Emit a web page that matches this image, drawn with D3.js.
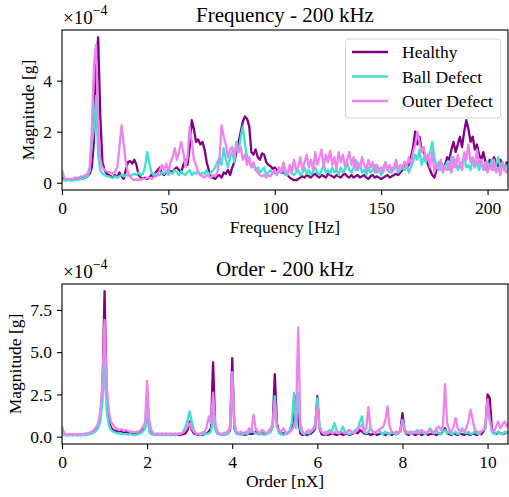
<!DOCTYPE html>
<html>
<head>
<meta charset="utf-8">
<script src="https://cdn.jsdelivr.net/npm/d3@7"></script>
<style>
  body { margin: 0; background: #fff; }
  svg { display: block; font-family: "Liberation Serif", "Times New Roman", serif; }
</style>
</head>
<body>
<svg id="chart" width="509" height="497"></svg>
<script>
// values are in units of 1e-4 g
const seriesNames = ["Healthy", "Ball Defect", "Outer Defect"];
const seriesColors = ["#800080", "#40E0D0", "#EE82EE"];

// frequency spectrum, 1 Hz step from 0 Hz
const freqStep = 1;
const freqHealthy = [
  0.2,0.12,0.1,0.12,0.1,0.1,0.12,0.15,0.15,0.15,
  0.18,0.2,0.25,0.35,0.6,1.6,4.6,5.7,2.6,0.8,
  0.5,0.35,0.3,0.25,0.2,0.3,0.2,0.4,0.25,0.15,
  0.5,0.8,0.85,0.75,0.9,0.7,0.3,0.2,0.15,0.2,
  0.15,0.2,0.3,0.25,0.4,0.5,0.6,0.35,0.3,0.4,
  0.5,0.45,0.4,0.55,0.6,0.5,0.4,0.7,0.9,0.7,
  1.4,2.45,2.1,1.6,1.7,1.5,1.6,1.3,0.8,0.5,
  0.2,0.2,0.15,0.25,0.3,0.2,0.4,0.35,0.5,0.3,
  0.6,0.8,1.2,1.6,2.0,2.4,2.6,2.5,2.2,1.2,
  1.1,1.3,1.0,0.9,1.15,1.1,0.8,0.7,0.65,0.55,
  0.6,0.5,0.45,0.4,0.4,0.35,0.3,0.2,0.15,0.1,
  0.1,0.15,0.2,0.25,0.2,0.3,0.25,0.2,0.3,0.35,
  0.25,0.2,0.3,0.25,0.2,0.35,0.3,0.25,0.2,0.3,
  0.25,0.2,0.3,0.35,0.25,0.2,0.3,0.2,0.25,0.3,
  0.2,0.25,0.3,0.2,0.15,0.25,0.3,0.2,0.25,0.2,
  0.15,0.2,0.25,0.3,0.2,0.25,0.3,0.35,0.3,0.4,
  0.5,0.8,0.6,0.7,1.0,1.4,2.0,1.5,1.8,1.3,
  1.2,1.0,0.7,0.5,0.3,0.2,0.5,0.6,0.8,0.6,
  0.7,1.0,0.9,1.3,1.6,1.2,1.5,1.8,1.4,2.0,
  2.45,2.1,1.6,1.8,1.3,1.5,1.1,0.9,1.2,0.8,
  0.6,0.9,0.7,1.0,0.8,0.6,0.9,0.7,0.5,0.8,
  0.6
];
const freqBall = [
  0.1,0.1,0.08,0.1,0.1,0.1,0.1,0.12,0.12,0.15,
  0.15,0.2,0.25,0.45,1.5,2.1,3.4,1.1,0.5,0.35,
  0.3,0.25,0.25,0.2,0.2,0.25,0.2,0.25,0.3,0.25,
  0.3,0.3,0.25,0.3,0.35,0.3,0.4,0.3,0.35,0.6,
  1.2,0.8,0.4,0.3,0.35,0.3,0.3,0.4,0.35,0.45,
  0.3,0.4,0.35,0.5,0.4,0.3,0.45,0.35,0.3,0.4,
  0.5,0.3,0.4,0.35,0.45,0.3,0.4,0.35,0.5,0.3,
  0.4,0.5,0.6,0.8,1.0,0.7,1.35,0.9,0.6,1.0,
  1.2,0.8,1.6,1.2,1.8,2.2,1.5,1.0,0.8,0.6,
  0.7,0.5,0.6,0.4,0.5,0.6,0.3,0.4,0.5,0.35,
  0.4,0.3,0.5,0.4,0.6,0.3,0.4,0.5,0.35,0.3,
  0.4,0.5,0.3,0.4,0.6,0.35,0.5,0.3,0.45,0.6,
  0.4,0.3,0.5,0.7,0.4,0.5,0.35,0.6,0.4,0.5,
  0.3,0.6,0.4,0.5,0.8,0.5,0.4,0.6,0.9,0.5,
  0.7,0.4,0.5,0.3,0.6,0.4,0.5,0.7,0.4,0.5,
  0.3,0.6,0.8,0.5,0.4,0.6,0.5,0.7,0.4,0.5,
  0.6,0.5,0.7,0.4,0.6,0.8,1.1,0.9,1.3,0.7,
  1.0,0.8,1.0,1.2,1.6,1.0,0.6,0.8,0.5,0.7,
  0.6,0.8,0.5,1.0,0.6,0.9,0.5,0.7,0.8,1.0,
  0.6,0.7,0.5,0.9,0.6,0.8,0.5,0.7,0.6,0.5,
  0.8,0.6,0.9,0.5,0.7,1.0,0.6,0.8,0.5,0.7,
  0.6
];
const freqOuter = [
  0.5,0.2,0.15,0.15,0.15,0.15,0.2,0.2,0.2,0.25,
  0.25,0.3,0.35,0.6,2.0,4.6,5.4,2.2,0.9,0.6,
  0.5,0.45,0.4,0.4,0.35,0.45,0.6,1.4,2.25,1.5,
  0.8,0.4,0.25,0.15,0.1,0.15,0.1,0.12,0.15,0.15,
  0.2,0.2,0.15,0.2,0.25,0.3,0.5,0.7,0.5,0.75,
  0.4,0.8,1.0,1.35,0.9,1.2,1.6,1.2,0.6,1.0,
  2.2,1.6,0.9,0.7,0.4,0.3,0.25,0.2,0.3,0.25,
  0.2,0.3,0.25,0.4,0.9,2.25,1.8,1.5,1.0,1.3,
  1.4,1.0,1.5,1.2,1.4,0.9,1.1,0.7,1.0,0.6,
  0.8,0.5,0.4,0.3,0.25,0.3,0.2,0.3,0.25,0.4,
  0.5,0.3,0.6,0.4,0.8,0.5,0.3,0.7,0.4,0.9,
  0.5,0.6,1.0,0.5,0.8,1.1,0.6,0.9,0.5,1.2,
  0.7,1.0,1.3,0.6,1.1,0.8,1.25,0.7,1.0,0.5,
  1.2,0.8,1.1,0.6,0.9,1.2,0.7,1.0,0.5,0.8,
  0.6,1.0,0.7,0.5,0.9,0.6,0.8,0.4,0.7,0.5,
  0.6,0.4,0.8,0.5,0.7,0.4,0.6,0.9,0.5,0.7,
  0.6,0.8,0.6,1.0,0.7,1.2,1.5,2.0,1.6,1.2,
  1.4,0.9,1.1,0.6,1.2,0.4,0.7,0.5,0.9,0.4,
  0.6,0.5,0.8,0.4,1.0,0.6,1.1,0.7,0.5,1.2,
  0.9,1.5,0.8,1.0,0.6,1.3,0.7,0.9,0.5,0.8,
  0.4,0.7,0.5,0.9,0.4,0.6,0.3,0.8,0.5,0.4,
  0.6
];

// order spectrum, 0.05 nX step from 0
const orderStep = 0.05;
const orderHealthy = [
  0.5,0.15,0.12,0.1,0.12,0.1,0.12,0.1,0.12,0.1,
  0.12,0.15,0.15,0.2,0.25,0.3,0.45,0.7,1.2,2.6,
  8.6,2.4,0.9,0.55,0.4,0.35,0.3,0.3,0.35,0.25,
  0.3,0.25,0.2,0.15,0.2,0.15,0.2,0.3,0.4,0.5,
  2.15,0.4,0.2,0.15,0.1,0.15,0.1,0.12,0.15,0.1,
  0.12,0.1,0.15,0.1,0.12,0.1,0.12,0.15,0.2,0.4,
  0.9,0.4,0.2,0.15,0.1,0.12,0.1,0.15,0.2,0.3,
  0.5,4.4,0.6,0.2,0.15,0.1,0.12,0.15,0.2,0.4,
  4.65,0.5,0.2,0.15,0.2,0.15,0.1,0.15,0.2,0.15,
  0.2,0.3,0.2,0.15,0.2,0.15,0.2,0.25,0.3,0.6,
  3.7,0.8,0.3,0.15,0.2,0.15,0.2,0.3,0.5,1.0,
  2.4,1.0,0.2,0.1,0.15,0.1,0.15,0.2,0.3,0.5,
  2.4,0.5,0.15,0.1,0.15,0.1,0.15,0.2,0.15,0.1,
  0.15,0.2,0.1,0.15,0.2,0.1,0.15,0.2,0.3,0.2,
  0.4,0.3,0.2,0.15,0.2,0.1,0.15,0.2,0.1,0.15,
  0.2,0.15,0.1,0.2,0.15,0.1,0.2,0.15,0.2,0.3,
  1.4,0.4,0.15,0.1,0.2,0.15,0.1,0.15,0.2,0.1,
  0.15,0.2,0.1,0.15,0.2,0.15,0.1,0.2,0.15,0.3,
  0.5,0.2,0.15,0.1,0.2,0.15,0.1,0.2,0.15,0.1,
  0.2,0.15,0.1,0.2,0.15,0.1,0.2,0.15,0.3,0.6,
  2.5,2.3,0.5,0.2,0.15,0.3,0.2,0.15,0.2,0.25,
  0.2
];
const orderBall = [
  0.1,0.1,0.08,0.1,0.1,0.08,0.1,0.1,0.08,0.1,
  0.1,0.1,0.12,0.15,0.2,0.25,0.35,0.5,0.9,2.0,
  4.3,1.5,0.7,0.4,0.3,0.25,0.2,0.2,0.15,0.15,
  0.15,0.12,0.15,0.12,0.1,0.12,0.15,0.2,0.3,0.5,
  2.0,0.3,0.15,0.1,0.12,0.1,0.12,0.1,0.15,0.1,
  0.12,0.1,0.15,0.1,0.12,0.15,0.2,0.3,0.6,1.0,
  1.5,0.9,0.4,0.2,0.15,0.1,0.15,0.2,0.15,0.2,
  0.3,1.1,0.4,0.2,0.15,0.1,0.12,0.15,0.2,0.5,
  3.8,0.6,0.2,0.15,0.1,0.15,0.2,0.15,0.3,0.4,
  0.3,0.2,0.15,0.2,0.15,0.1,0.15,0.2,0.3,0.6,
  2.4,0.6,0.2,0.15,0.1,0.15,0.2,0.4,0.8,2.6,
  0.5,2.6,0.4,0.2,0.15,0.25,0.2,0.3,0.4,0.6,
  2.3,0.7,0.3,0.2,0.15,0.3,0.4,0.35,0.8,0.4,
  0.2,0.3,0.6,0.3,0.2,0.15,0.2,0.3,0.4,0.5,
  0.9,1.2,0.3,0.2,0.3,0.5,0.3,0.2,0.3,0.4,
  0.2,0.15,0.3,0.2,0.15,0.3,0.2,0.15,0.2,0.3,
  1.0,0.5,0.2,0.3,0.15,0.2,0.3,0.4,0.2,0.3,
  0.2,0.15,0.3,0.5,0.3,0.2,0.4,0.2,0.15,0.3,
  0.4,0.2,0.3,0.15,0.2,0.3,0.15,0.2,0.5,0.3,
  0.2,0.3,0.15,0.2,0.3,0.2,0.15,0.3,0.4,0.5,
  1.9,1.0,0.3,0.15,0.2,0.3,0.2,0.15,0.3,0.2,
  0.3
];
const orderOuter = [
  0.6,0.2,0.15,0.15,0.12,0.15,0.12,0.15,0.12,0.15,
  0.15,0.2,0.2,0.25,0.3,0.4,0.55,0.8,1.5,3.2,
  6.9,3.0,1.5,0.9,0.7,0.55,0.45,0.4,0.45,0.35,
  0.4,0.35,0.3,0.3,0.25,0.3,0.3,0.4,0.6,0.8,
  3.3,1.0,0.35,0.2,0.15,0.2,0.15,0.2,0.15,0.2,
  0.15,0.2,0.15,0.2,0.15,0.2,0.2,0.25,0.4,0.6,
  0.8,0.5,0.3,0.2,0.15,0.2,0.25,0.3,0.6,1.2,
  0.8,2.6,0.8,0.3,0.2,0.15,0.2,0.25,0.35,0.6,
  3.8,0.8,0.3,0.2,0.3,0.2,0.25,0.3,0.5,0.3,
  1.3,0.5,0.3,0.2,0.4,0.3,0.2,0.3,0.5,0.7,
  2.0,0.6,0.4,0.3,0.5,0.3,0.2,0.3,0.4,0.6,
  1.2,6.45,0.8,0.3,0.2,0.3,0.4,0.3,0.5,0.7,
  1.8,0.5,0.3,0.2,0.3,0.2,0.3,0.2,0.25,0.3,
  0.2,0.3,0.25,0.2,0.3,0.4,0.3,0.2,0.3,0.4,
  0.6,0.7,0.3,0.5,1.75,0.5,0.3,0.25,0.3,0.4,
  0.5,0.6,1.0,1.8,0.6,0.3,0.2,0.3,0.25,0.3,
  0.9,0.4,0.3,0.2,0.3,0.25,0.3,0.2,0.3,0.4,
  0.3,0.2,0.3,0.4,0.25,0.3,0.5,0.6,0.4,0.6,
  3.1,0.8,0.4,0.3,0.6,1.1,0.5,0.3,0.4,0.3,
  0.5,0.9,1.6,1.0,0.4,0.3,0.25,0.3,0.4,0.7,
  2.2,1.0,0.4,0.3,0.6,0.9,0.5,0.7,0.9,0.6,
  0.9
];

const freqTicks = [0, 50, 100, 150, 200];
const freqYTicks = [0, 2, 4];
const orderTicks = [0, 2, 4, 6, 8, 10];
const orderYTicks = [0, 2.5, 5, 7.5];

const svg = d3.select("#chart");
const fontSize = 17.5;

function panel(cfg) {
  const {top, bottom, left, right, xMax, step, series, xTicks, yTicks, yFmt, title, xLabel, yLabelX, id} = cfg;
  const yMax = d3.max(series, s => d3.max(s));
  const x = d3.scaleLinear().domain([0, xMax]).range([left, right]);
  const y = d3.scaleLinear().domain([-0.05 * yMax, 1.05 * yMax]).range([bottom, top]);

  svg.append("clipPath").attr("id", id)
    .append("rect").attr("x", left).attr("y", top)
    .attr("width", right - left).attr("height", bottom - top);

  const line = d3.line().x((d, i) => x(i * step)).y(d => y(d));
  svg.append("g").attr("clip-path", `url(#${id})`)
    .selectAll("path").data(series).join("path")
      .attr("d", line)
      .attr("fill", "none")
      .attr("stroke", (d, i) => seriesColors[i])
      .attr("stroke-width", 2.3)
      .attr("stroke-linejoin", "round");

  const xAxis = svg.append("g").attr("transform", `translate(0,${bottom})`)
    .call(d3.axisBottom(x).tickValues(xTicks).tickSize(5).tickPadding(5).tickSizeOuter(0));
  const yAxis = svg.append("g").attr("transform", `translate(${left},0)`)
    .call(d3.axisLeft(y).tickValues(yTicks).tickFormat(yFmt).tickSize(5).tickPadding(5).tickSizeOuter(0));
  [xAxis, yAxis].forEach(a => {
    a.select(".domain").remove();
    a.selectAll("line").attr("stroke", "#000").attr("stroke-width", 1.1);
    a.selectAll("text").attr("font-size", fontSize).attr("fill", "#000")
      .attr("font-family", "Liberation Serif, Times New Roman, serif");
  });
  xAxis.selectAll("text").attr("dy", "0.78em");

  svg.append("rect").attr("x", left).attr("y", top)
    .attr("width", right - left).attr("height", bottom - top)
    .attr("fill", "none").attr("stroke", "#000").attr("stroke-width", 1.1);

  svg.append("text").attr("x", (left + right) / 2).attr("y", top - 8)
    .attr("text-anchor", "middle").attr("font-size", 21).text(title);

  svg.append("text").attr("x", (left + right) / 2).attr("y", bottom + 43)
    .attr("text-anchor", "middle").attr("font-size", fontSize).text(xLabel);

  svg.append("text")
    .attr("transform", `translate(${yLabelX},${(top + bottom) / 2}) rotate(-90)`)
    .attr("text-anchor", "middle").attr("font-size", fontSize).text("Magnitude [g]");

  const mult = svg.append("text").attr("x", left + 1).attr("y", top - 6).attr("font-size", 19);
  mult.append("tspan").text("\u00d710");
  mult.append("tspan").attr("dy", -9).attr("font-size", 14).text("\u22124");

  return {x, y};
}

panel({
  id: "clipFreq", top: 30, bottom: 190, left: 62, right: 508,
  xMax: 209.6, step: freqStep, series: [freqHealthy, freqBall, freqOuter],
  xTicks: freqTicks, yTicks: freqYTicks, yFmt: d3.format("d"), yLabelX: 34,
  title: "Frequency - 200 kHz", xLabel: "Frequency [Hz]"
});

panel({
  id: "clipOrder", top: 284, bottom: 444, left: 62, right: 508,
  xMax: 10.48, step: orderStep, series: [orderHealthy, orderBall, orderOuter],
  xTicks: orderTicks, yTicks: orderYTicks, yFmt: d3.format(".1f"), yLabelX: 21,
  title: "Order - 200 kHz", xLabel: "Order [nX]"
});

// legend
const legend = svg.append("g");
legend.append("rect").attr("x", 345.5).attr("y", 39).attr("width", 155).attr("height", 79)
  .attr("rx", 3).attr("fill", "#fff").attr("fill-opacity", 0.8)
  .attr("stroke", "#d5d5d5").attr("stroke-width", 1);
seriesNames.forEach((name, i) => {
  const yy = 52 + i * 24.5;
  legend.append("line").attr("x1", 352).attr("x2", 388).attr("y1", yy).attr("y2", yy)
    .attr("stroke", seriesColors[i]).attr("stroke-width", 2.3);
  legend.append("text").attr("x", 402).attr("y", yy + 6)
    .attr("font-size", fontSize).text(name);
});
</script>
</body>
</html>
